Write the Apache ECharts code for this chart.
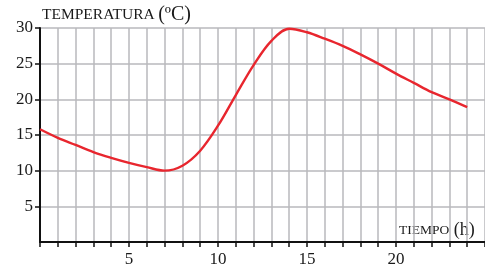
<!DOCTYPE html>
<html>
<head>
<meta charset="utf-8">
<script src="https://cdn.jsdelivr.net/npm/echarts@6/dist/echarts.min.js"></script>
<style>
  html, body { margin: 0; padding: 0; background: #fff; }
  #chart { width: 485px; height: 273px; }
</style>
</head>
<body>
<div id="chart"></div>
<script>
// hora del día (h)
var horas = [0, 1, 2, 3, 4, 5, 6, 7, 8, 9, 10, 11, 12, 13, 14, 15, 16, 17, 18, 19, 20, 21, 22, 23, 24];
// temperatura (ºC)
var temperaturas = [15.8, 14.6, 13.6, 12.6, 11.8, 11.1, 10.5, 10.0, 10.7, 12.8, 16.3, 20.6, 24.8, 28.2, 29.9, 29.4, 28.5, 27.5, 26.3, 25.0, 23.6, 22.3, 21.0, 20.0, 18.9];
var etiquetasX = [5, 10, 15, 20];
var etiquetasY = [5, 10, 15, 20, 25, 30];

var serif = 'Liberation Serif, DejaVu Serif, serif';
var puntos = horas.map(function (h, i) { return [h, temperaturas[i]]; });

var chart = echarts.init(document.getElementById('chart'));
chart.setOption({
    animation: false,
    grid: { left: 40, right: -3, top: 28, bottom: 31 },
    xAxis: {
        type: 'value',
        min: 0,
        max: 25,
        interval: 1,
        axisLine: { show: true, lineStyle: { color: '#111', width: 2 } },
        axisTick: { show: true, length: 5, lineStyle: { color: '#111', width: 1.5 } },
        axisLabel: {
            customValues: etiquetasX,
            margin: 9,
            fontFamily: serif,
            fontSize: 17,
            color: '#1a1a1a'
        },
        splitLine: { show: true, lineStyle: { color: '#b8b8bc', width: 1.5 } }
    },
    yAxis: {
        type: 'value',
        min: 0,
        max: 30,
        interval: 2.5,
        axisLine: { show: true, lineStyle: { color: '#111', width: 2 } },
        axisTick: { show: true, customValues: etiquetasY, length: 5, lineStyle: { color: '#111', width: 1.5 } },
        axisLabel: {
            customValues: etiquetasY,
            margin: 7,
            fontFamily: serif,
            fontSize: 17,
            color: '#1a1a1a'
        },
        splitLine: { show: true, lineStyle: { color: '#b8b8bc', width: 1.5 } }
    },
    graphic: [{
        type: 'text',
        left: 42,
        top: 5,
        style: {
            text: '{a|TEMPERATURA} {b|(ºC)}',
            rich: {
                a: { fontFamily: serif, fontSize: 15.5, fill: '#1a1a1a' },
                b: { fontFamily: serif, fontSize: 20, fill: '#1a1a1a' }
            }
        }
    }, {
        type: 'text',
        left: 399,
        top: 221,
        style: {
            text: '{a|TIEMPO}{b| (h)}',
            rich: {
                a: { fontFamily: serif, fontSize: 13.5, fill: '#1a1a1a' },
                b: { fontFamily: serif, fontSize: 18, fill: '#1a1a1a' }
            }
        }
    }],
    series: [{
        type: 'line',
        data: puntos,
        smooth: 0.35,
        showSymbol: false,
        lineStyle: { color: '#e8262e', width: 2.4 }
    }]
});
</script>
</body>
</html>
